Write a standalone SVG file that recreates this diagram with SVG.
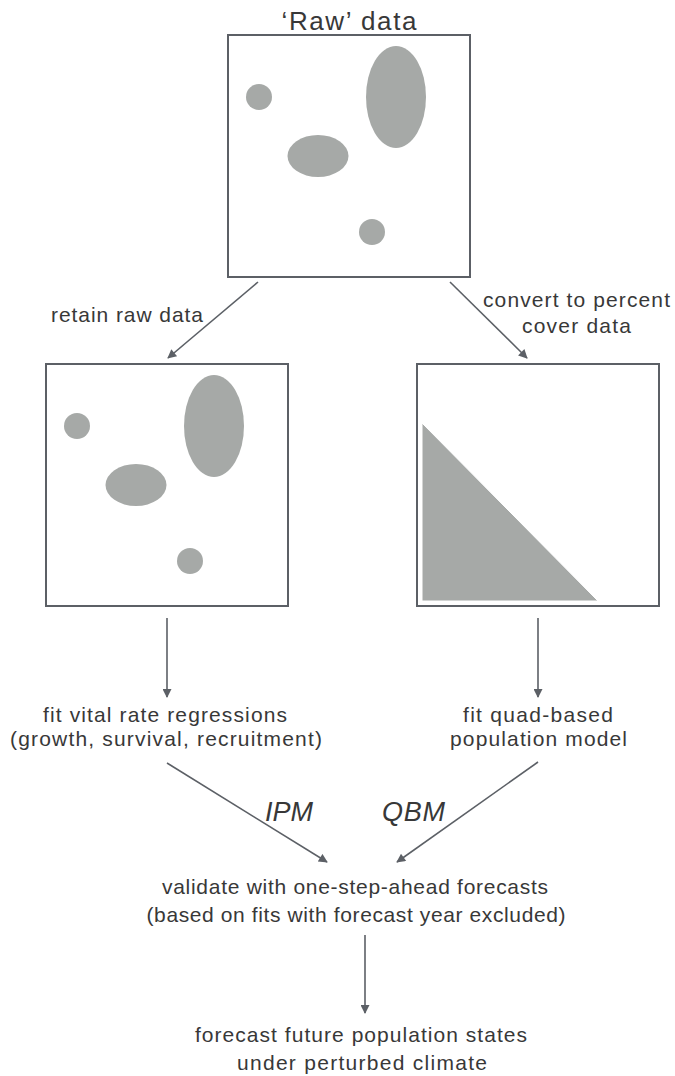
<svg xmlns="http://www.w3.org/2000/svg" width="675" height="1076" viewBox="0 0 675 1076">
<style>
.box{fill:#ffffff;stroke:#5c6066;stroke-width:2}
.blob{fill:#a6a9a7}
.lbl{font-family:"Liberation Sans",Arial,sans-serif;font-size:21px;fill:#383838;text-anchor:middle}
.ital{font-style:italic;font-size:27px;text-anchor:start}
.edge{stroke:#5c6066;stroke-width:1.6;fill:none;marker-end:url(#ah)}
</style>
<defs>
<marker id="ah" viewBox="0 0 10 10" refX="9" refY="5" markerWidth="11" markerHeight="9" markerUnits="userSpaceOnUse" orient="auto">
<path d="M0,0 L10,5 L0,10 z" fill="#5c6066"/>
</marker>
</defs>
<rect width="675" height="1076" fill="#ffffff"/>

<g id="raw-data">
<text class="lbl" x="349" y="30" style="font-size:26px" textLength="135" lengthAdjust="spacing">‘Raw’ data</text>
<rect class="box" x="228" y="35" width="242" height="242"/>
<circle class="blob" cx="259" cy="97" r="13"/>
<ellipse class="blob" cx="396" cy="97" rx="30" ry="51"/>
<ellipse class="blob" cx="318" cy="156" rx="30.5" ry="21"/>
<circle class="blob" cx="372" cy="232" r="13"/>
</g>

<g id="raw-retained">
<rect class="box" x="46" y="364" width="242" height="242"/>
<circle class="blob" cx="77" cy="426" r="13"/>
<ellipse class="blob" cx="214" cy="426" rx="30" ry="51"/>
<ellipse class="blob" cx="136" cy="485" rx="30.5" ry="21"/>
<circle class="blob" cx="190" cy="561" r="13"/>
</g>

<g id="percent-cover">
<rect class="box" x="417" y="364" width="242" height="242"/>
<polygon class="blob" points="422,423 422,601 598,601" stroke="#ffffff" stroke-width="1"/>
</g>

<g id="vital-rates">
<text class="lbl" x="165" y="722" textLength="244" lengthAdjust="spacing">fit vital rate regressions</text>
<text class="lbl" x="166" y="746" textLength="312" lengthAdjust="spacing">(growth, survival, recruitment)</text>
</g>

<g id="quad-model">
<text class="lbl" x="538" y="722" textLength="150" lengthAdjust="spacing">fit quad-based</text>
<text class="lbl" x="538.5" y="746" textLength="177" lengthAdjust="spacing">population model</text>
</g>

<g id="validate">
<text class="lbl" x="355" y="894" textLength="386" lengthAdjust="spacing">validate with one-step-ahead forecasts</text>
<text class="lbl" x="356" y="922" textLength="419" lengthAdjust="spacing">(based on fits with forecast year excluded)</text>
</g>

<g id="forecast">
<text class="lbl" x="361" y="1042" textLength="332" lengthAdjust="spacing">forecast future population states</text>
<text class="lbl" x="362" y="1070" textLength="250" lengthAdjust="spacing">under perturbed climate</text>
</g>

<g id="connectors">
<line class="edge" x1="258" y1="282" x2="168" y2="358"/>
<line class="edge" x1="450" y1="282" x2="527" y2="358"/>
<line class="edge" x1="167" y1="618" x2="167" y2="697"/>
<line class="edge" x1="538" y1="618" x2="538" y2="697"/>
<line class="edge" x1="167" y1="763" x2="327" y2="862"/>
<line class="edge" x1="538" y1="762" x2="397" y2="862"/>
<line class="edge" x1="365" y1="935" x2="365" y2="1013"/>
<text class="lbl" x="127" y="322" textLength="152" lengthAdjust="spacing">retain raw data</text>
<text class="lbl" x="576.5" y="307" textLength="187" lengthAdjust="spacing">convert to percent</text>
<text class="lbl" x="576.5" y="333" textLength="109" lengthAdjust="spacing">cover data</text>
<text class="lbl ital" x="265" y="821" textLength="48" lengthAdjust="spacing">IPM</text>
<text class="lbl ital" x="382" y="821" textLength="63" lengthAdjust="spacing">QBM</text>
</g>
</svg>
